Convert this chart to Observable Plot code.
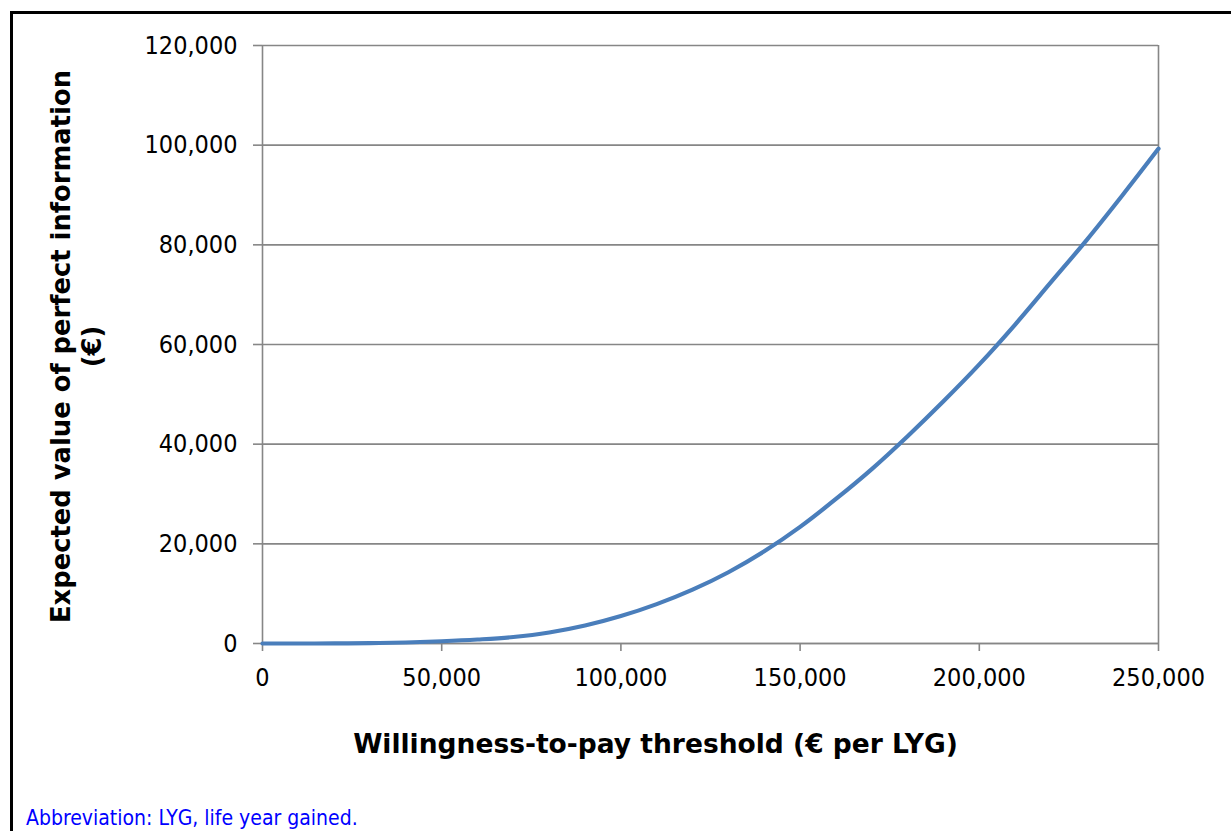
<!DOCTYPE html>
<html>
<head>
<meta charset="utf-8">
<script src="https://cdn.jsdelivr.net/npm/d3@7"></script>
<script src="https://cdn.jsdelivr.net/npm/@observablehq/plot@0.6"></script>
<style>
  html, body { margin: 0; padding: 0; background: #fff; }
  #wrap { position: relative; width: 1231px; height: 831px; overflow: hidden; background: #fff; }
  #frame { position: absolute; left: 10px; top: 11px; width: 1400px; height: 1000px;
           border-left: 3px solid #000; border-top: 3px solid #000; box-sizing: border-box; }
  #chart { position: absolute; left: 0; top: 0; }
  #caption { position: absolute; left: 26px; top: 806px; font-family: 'DejaVu Sans Condensed', 'DejaVu Sans', sans-serif;
             font-size: 21px; color: #0000ff; white-space: nowrap; }
</style>
</head>
<body>
<div id="wrap">
  <div id="frame"></div>
  <div id="chart"></div>
  <div id="caption">Abbreviation: LYG, life year gained.</div>
</div>
<script>
// Willingness-to-pay threshold (€ per LYG)
const wtp = [0, 10000, 20000, 30000, 40000, 50000, 60000, 70000, 80000, 90000, 100000,
             110000, 120000, 130000, 140000, 150000, 160000, 170000, 180000, 190000, 200000,
             210000, 220000, 230000, 240000, 250000];
// Expected value of perfect information (€)
const evpi = [0, 0, 20, 80, 200, 450, 800, 1300, 2200, 3600, 5500,
              7900, 10800, 14300, 18500, 23400, 29000, 35000, 41600, 48600, 56000,
              64000, 72500, 81000, 90000, 99300];
const xTicks = [0, 50000, 100000, 150000, 200000, 250000];
const yTicks = [0, 20000, 40000, 60000, 80000, 100000, 120000];
const xTitle = "Willingness-to-pay threshold (€ per LYG)";
const yTitle = "Expected value of perfect information\n(€)";

const data = wtp.map((x, i) => ({x, y: evpi[i]}));
const fmt = d3.format(",");
const gray = "#868686";
const font = "'DejaVu Sans Condensed', 'DejaVu Sans', sans-serif";
const boldFont = "'DejaVu Sans', sans-serif";

const chart = Plot.plot({
  width: 1231,
  height: 795,
  marginLeft: 262,
  marginRight: 73,
  marginTop: 45,
  marginBottom: 152,
  style: {fontFamily: font, fontSize: "25px", color: "#000", background: "transparent", overflow: "visible"},
  x: {domain: [0, 250000]},
  y: {domain: [0, 120000]},
  marks: [
    Plot.gridY(yTicks, {stroke: gray, strokeOpacity: 1, strokeWidth: 1.6}),
    Plot.ruleX([0, 250000], {stroke: gray, strokeWidth: 1.6}),
    Plot.ruleY([0], {stroke: gray, strokeWidth: 1.6}),
    Plot.axisX({ticks: xTicks, tickFormat: fmt, tickSize: 8, tickPadding: 17, stroke: gray, strokeWidth: 1.6, fill: "#000", fontSize: 25, label: null}),
    Plot.axisY({ticks: yTicks, tickFormat: fmt, tickSize: 9, tickPadding: 16, stroke: gray, strokeWidth: 1.6, fill: "#000", fontSize: 25, label: null}),
    Plot.line(data, {x: "x", y: "y", stroke: "#4a7ebb", strokeWidth: 4.2, curve: "monotone-x"}),
    Plot.text([xTitle], {frameAnchor: "bottom", dx: -55, dy: 101, textAnchor: "middle", lineAnchor: "middle", fontFamily: boldFont, fontWeight: "bold", fontSize: 26.5, fill: "#000"}),
    Plot.text([yTitle], {frameAnchor: "left", dx: -187, dy: 2, rotate: -90, textAnchor: "middle", lineAnchor: "middle", lineHeight: 1.22, fontFamily: boldFont, fontWeight: "bold", fontSize: 25.8, fill: "#000"})
  ]
});
document.getElementById("chart").appendChild(chart);
</script>
</body>
</html>
